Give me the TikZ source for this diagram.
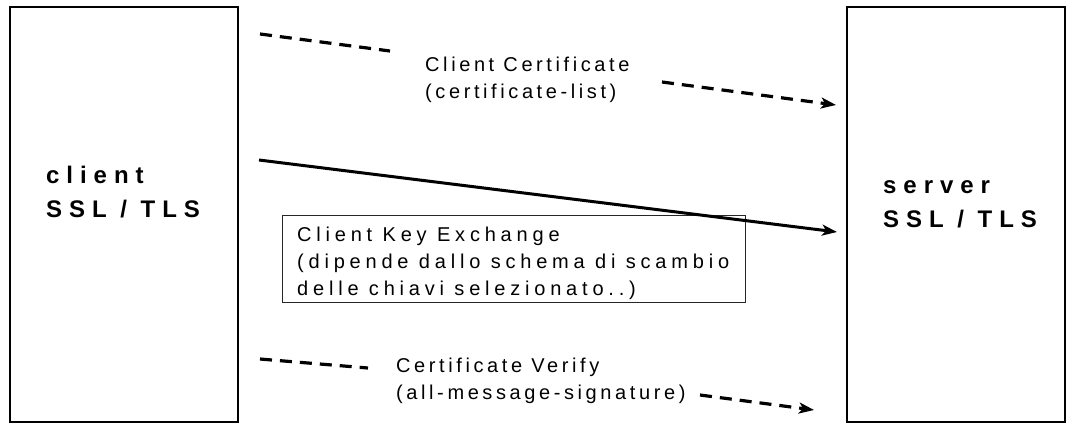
\documentclass[tikz,border=0pt]{standalone}
\usepackage{fontspec}
\setmainfont{Liberation Sans}
\newfontfamily\bigfont[LetterSpace=29]{Liberation Sans}
\newfontfamily\smallfont[LetterSpace=18]{Liberation Sans}
\newfontfamily\notefont[LetterSpace=24]{Liberation Sans}
\usetikzlibrary{arrows.meta}
\tikzset{
  hostbox/.style={draw=black, line width=2pt, rectangle, inner sep=0pt, anchor=north west},
  notebox/.style={draw=black!85, line width=1pt, rectangle, inner sep=0pt, anchor=north west},
  biglbl/.style={anchor=north west, inner sep=0pt, align=left, font=\bigfont\bfseries\fontsize{24}{34}\selectfont},
  smalllbl/.style={anchor=north west, inner sep=0pt, align=left, font=\smallfont\fontsize{20}{27}\selectfont},
  notelbl/.style={anchor=north west, inner sep=0pt, align=left, font=\notefont\fontsize{20}{27}\selectfont},
  msgdash/.style={line width=3.2pt, dash pattern=on 12pt off 8pt},
  msgsolid/.style={line width=3pt},
  tip/.style={-{Stealth[length=15pt,width=11pt,inset=4pt]}}
}
\begin{document}
\begin{tikzpicture}[x=1pt,y=-1pt]
\useasboundingbox (0,0) rectangle (1066,423);
% host boxes
\node[hostbox, minimum width=228pt, minimum height=415pt] (client) at (9,6) {};
\node[hostbox, minimum width=218pt, minimum height=415pt] (server) at (846,6) {};
\node[biglbl] (clientlbl) at (46,163) {\rule{0pt}{20pt}client\\SSL / TLS};
\node[biglbl] (serverlbl) at (883,173) {\rule{0pt}{20pt}server\\SSL / TLS};
% Client Certificate
\coordinate (cc1) at (260,34);
\coordinate (cc2) at (390,51);
\coordinate (cc3) at (662,82);
\coordinate (cc4) at (836,105);
\draw[msgdash] (cc1) -- (cc2);
\draw[msgdash, tip] (cc3) -- (cc4);
\node[smalllbl] (cclbl) at (425,51) {\rule{0pt}{20pt}Client Certificate\\(certificate-list)};
% Client Key Exchange
\coordinate (ke1) at (259,160);
\coordinate (ke2) at (837,232);
\node[notebox, minimum width=463pt, minimum height=87pt] (kebox) at (282,215) {};
\draw[msgsolid, tip] (ke1) -- (ke2);
\node[notelbl] (kelbl) at (297,221) {\rule{0pt}{20pt}Client Key Exchange\\(dipende dallo schema di scambio\\delle chiavi selezionato..)};
% Certificate Verify
\coordinate (cv1) at (260,359);
\coordinate (cv2) at (368,368);
\coordinate (cv3) at (700,395);
\coordinate (cv4) at (814,410);
\draw[msgdash] (cv1) -- (cv2);
\draw[msgdash, tip] (cv3) -- (cv4);
\node[smalllbl] (cvlbl) at (396,352) {\rule{0pt}{20pt}Certificate Verify\\(all-message-signature)};
\end{tikzpicture}
\end{document}
